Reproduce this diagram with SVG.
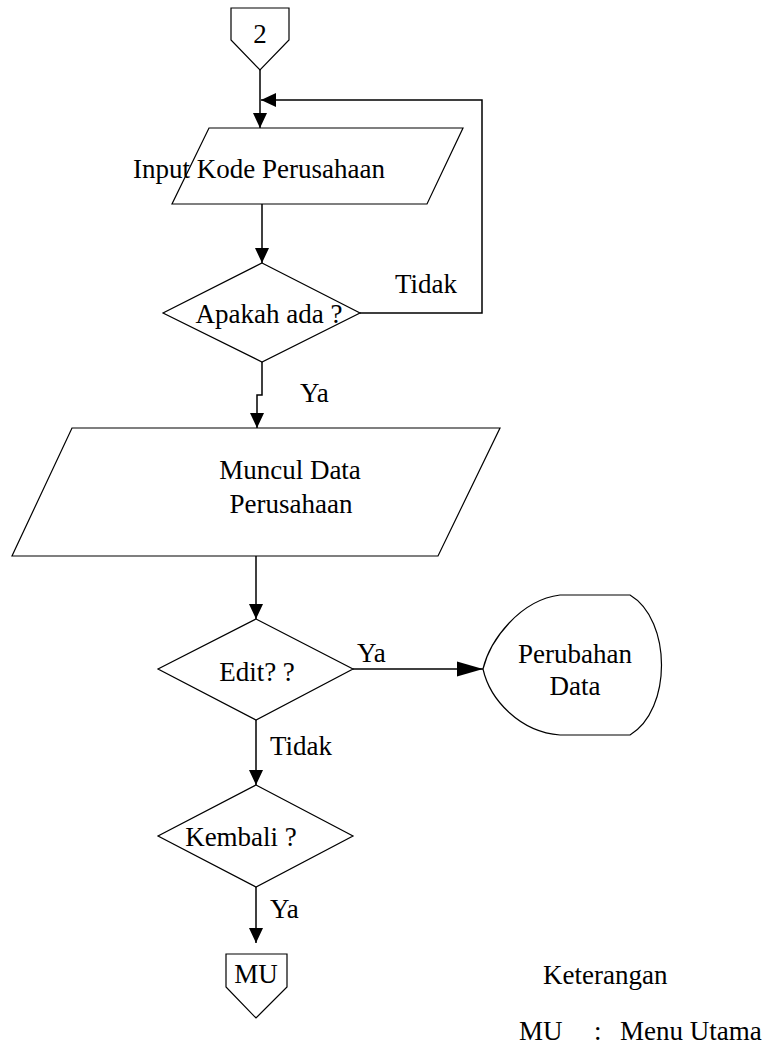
<svg xmlns="http://www.w3.org/2000/svg" width="772" height="1048" viewBox="0 0 772 1048" font-family="'Liberation Serif', 'DejaVu Serif', serif">
  <style>
    .shape { fill: #ffffff; stroke: #000000; stroke-width: 1.2; }
    .conn { fill: none; stroke: #000000; stroke-width: 1.5; }
    text { font-family: 'Liberation Serif', 'DejaVu Serif', serif; fill: #000000; font-size: 27px; }
    .mid { text-anchor: middle; }
  </style>
  <defs>
    <marker id="arrow" markerUnits="userSpaceOnUse" markerWidth="16" markerHeight="16" viewBox="0 0 16 16" refX="15" refY="8" orient="auto">
      <path d="M0,1 L15,8 L0,15 Z" fill="#000000"/>
    </marker>
    <marker id="arrowLong" markerUnits="userSpaceOnUse" markerWidth="27" markerHeight="16" viewBox="0 0 27 16" refX="26" refY="8" orient="auto">
      <path d="M0,0.5 L26,8 L0,15.5 Z" fill="#000000"/>
    </marker>
  </defs>

  <rect x="0" y="0" width="772" height="1048" fill="#ffffff"/>

  <!-- connectors -->
  <g id="connectors">
    <line class="conn" x1="260" y1="70" x2="260" y2="128" marker-end="url(#arrow)"/>
    <polyline class="conn" points="360,313 482,313 482,100 261,100" marker-end="url(#arrow)"/>
    <line class="conn" x1="262" y1="204" x2="262" y2="263" marker-end="url(#arrow)"/>
    <polyline class="conn" points="262,362 262,395 257,395 257,428" marker-end="url(#arrow)"/>
    <line class="conn" x1="256" y1="556" x2="256" y2="619" marker-end="url(#arrow)"/>
    <line class="conn" x1="353" y1="669" x2="483" y2="669" marker-end="url(#arrowLong)"/>
    <line class="conn" x1="256" y1="720" x2="256" y2="785" marker-end="url(#arrow)"/>
    <line class="conn" x1="256" y1="887" x2="256" y2="943" marker-end="url(#arrow)"/>
    <text x="395" y="293">Tidak</text>
    <text x="300" y="402" font-size="26">Ya</text>
    <text x="357" y="662" font-size="26">Ya</text>
    <text x="270" y="755">Tidak</text>
    <text x="270" y="918" font-size="26">Ya</text>
  </g>

  <!-- off-page connector 2 -->
  <g id="node-connector-2">
    <polygon class="shape" points="231,8 289,8 289,40 260,70 231,40"/>
    <text class="mid" x="260" y="43">2</text>
  </g>

  <!-- input company code -->
  <g id="node-input-kode">
    <polygon class="shape" points="209,128 463,128 427,204 172,204"/>
    <text class="mid" x="259" y="178" font-size="28">Input Kode Perusahaan</text>
  </g>

  <!-- decision: exists? -->
  <g id="node-apakah-ada">
    <polygon class="shape" points="262,263 360,313 262,362 163,313"/>
    <text class="mid" x="269" y="323" font-size="30">Apakah ada ?</text>
  </g>

  <!-- output company data -->
  <g id="node-muncul-data">
    <polygon class="shape" points="72,428 500,428 438,556 12,556"/>
    <text class="mid" x="290" y="479" font-size="28">Muncul Data</text>
    <text class="mid" x="291" y="513" font-size="28">Perusahaan</text>
  </g>

  <!-- decision: edit? -->
  <g id="node-edit">
    <polygon class="shape" points="256,619 353,669 256,720 158,669"/>
    <text class="mid" x="257" y="681" font-size="28">Edit? ?</text>
  </g>

  <!-- display: data change -->
  <g id="node-perubahan-data">
    <path class="shape" d="M560,595 L630,595 C672,620 672,710 630,735 L560,735 C520,732 490,700 483,669 C490,640 520,600 560,595 Z"/>
    <text class="mid" x="575" y="663" font-size="24.5">Perubahan</text>
    <text class="mid" x="575" y="695" font-size="24.5">Data</text>
  </g>

  <!-- decision: back? -->
  <g id="node-kembali">
    <polygon class="shape" points="256,785 353,836 256,887 158,836"/>
    <text class="mid" x="241" y="846" font-size="23.5">Kembali ?</text>
  </g>

  <!-- off-page connector MU -->
  <g id="node-connector-mu">
    <polygon class="shape" points="226,954 287,954 287,987 256,1018 226,987"/>
    <text class="mid" x="256" y="983">MU</text>
  </g>

  <!-- legend -->
  <g id="legend">
    <text x="543" y="984" font-size="28">Keterangan</text>
    <text x="519" y="1040" font-size="27">MU</text>
    <text x="594" y="1040" font-size="27">:</text>
    <text x="620" y="1040" font-size="28">Menu Utama</text>
  </g>
</svg>
